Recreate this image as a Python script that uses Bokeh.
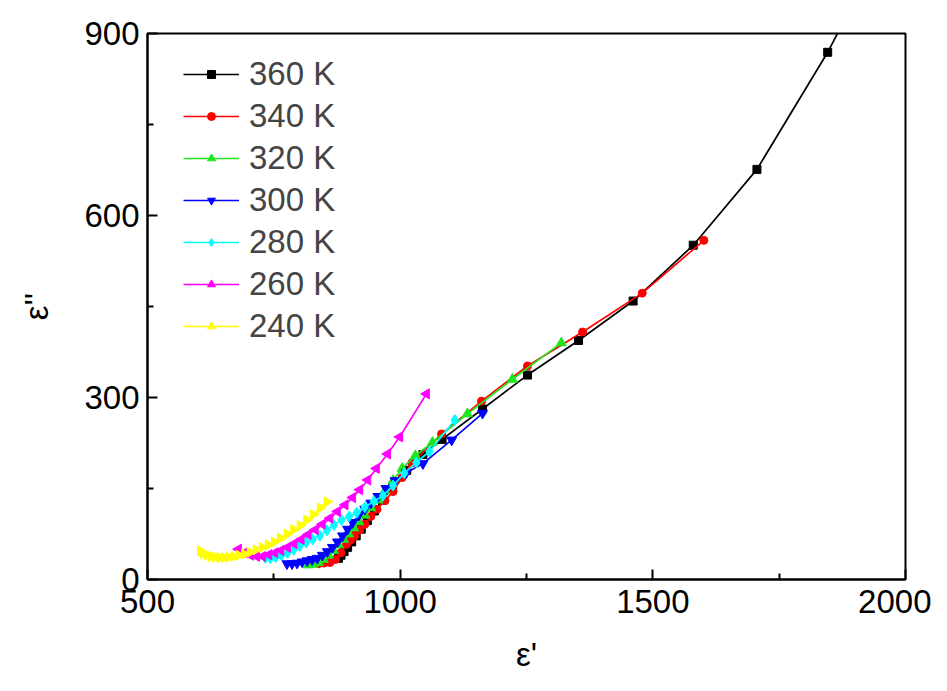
import math
from bokeh.plotting import figure
from bokeh.models import Range1d, FixedTicker, Legend, LegendItem
from bokeh.embed import file_html
from bokeh.resources import INLINE

# ---- data ----
x_360 = [878, 883, 889, 896, 904, 913, 923, 935, 949, 965, 985, 1013, 1045, 1083, 1163, 1252, 1353, 1461, 1580, 1706, 1846, 2000]
y_360 = [35, 40, 46, 53, 62, 72, 83, 97, 113, 131, 152, 180, 206, 231, 281, 337, 394, 459, 551, 676, 869, 1115]

x_340 = [838, 849, 861, 872, 883, 894, 902, 910, 920, 930, 942, 954, 970, 986, 1004, 1023, 1082, 1161, 1252, 1361, 1479, 1601]
y_340 = [26, 27, 28, 33, 44, 58, 65, 72, 82, 91, 104, 116, 130, 145, 168, 192, 240, 294, 352, 408, 472, 559]

x_320 = [818, 828, 838, 848, 858, 868, 878, 888, 898, 908, 918, 930, 942, 956, 970, 986, 1004, 1030, 1064, 1133, 1222, 1319]
y_320 = [24, 25, 28, 33, 40, 48, 57, 66, 75, 85, 95, 106, 118, 131, 146, 163, 183, 204, 226, 273, 330, 390]

x_300 = [776, 786, 796, 806, 816, 826, 836, 846, 856, 866, 876, 886, 896, 906, 918, 930, 942, 956, 972, 990, 1012, 1045, 1102, 1163]
y_300 = [26, 26, 27, 29, 31, 33, 35, 40, 46, 53, 62, 72, 83, 94, 106, 116, 126, 137, 150, 163, 176, 191, 230, 274]

x_280 = [733, 743, 754, 765, 777, 789, 801, 814, 827, 841, 855, 869, 884, 899, 914, 930, 948, 966, 986, 1008, 1032, 1058, 1108]
y_280 = [36, 35, 37, 40, 44, 49, 55, 61, 66, 72, 81, 90, 98, 104, 110, 119, 129, 138, 155, 175, 193, 211, 263]

x_260 = [680, 692, 704, 716, 728, 740, 752, 764, 777, 790, 804, 818, 832, 846, 861, 876, 891, 906, 920, 936, 953, 975, 999, 1052]
y_260 = [50, 44, 40, 38, 38, 41, 44, 48, 53, 59, 66, 74, 82, 91, 101, 112, 123, 135, 148, 164, 183, 207, 235, 306]

x_240 = [605, 611, 618, 626, 634, 643, 652, 661, 671, 681, 692, 703, 715, 727, 739, 751, 763, 776, 789, 802, 815, 828, 842, 855]
y_240 = [47, 43, 40, 38, 37, 36, 36, 37, 38, 40, 42, 45, 49, 53, 57, 62, 68, 75, 82, 89, 98, 107, 118, 128]

labels = ["360 K", "340 K", "320 K", "300 K", "280 K", "260 K", "240 K"]
x_ticks = [500, 1000, 1500, 2000]
x_minor = [750, 1250, 1750]
y_ticks = [0, 300, 600, 900]
y_minor = [150, 450, 750]

series = [
    (x_360, y_360, "#000000", "square", 0.0, 8),
    (x_340, y_340, "#ff0000", "circle", 0.0, 8),
    (x_320, y_320, "#1ee61e", "triangle", 0.0, 10),
    (x_300, y_300, "#0000ff", "inverted_triangle", 0.0, 10),
    (x_280, y_280, "#00ffff", "diamond", 0.0, 11),
    (x_260, y_260, "#ff00ff", "triangle", math.pi / 2, 10),
    (x_240, y_240, "#ffff00", "triangle", -math.pi / 2, 10),
]

FONT = "Liberation Sans"
FS = "33px"

p = figure(width=931, height=675, output_backend="svg", toolbar_location=None,
           x_range=Range1d(500, 2000), y_range=Range1d(0, 900),
           min_border_left=147, min_border_right=26, min_border_top=33, min_border_bottom=91)

p.grid.visible = False
p.outline_line_color = "black"
p.outline_line_width = 2
p.background_fill_color = "white"

items = []
for (xs, ys, col, mk, ang, sz), lab in zip(series, labels):
    lr = p.line(xs, ys, line_color=col, line_width=1.7)
    sr = p.scatter(xs, ys, marker=mk, angle=ang, size=sz, fill_color=col, line_color=col)
    items.append(LegendItem(label=lab, renderers=[lr, sr]))

legend = Legend(items=items, location=(36, 232), margin=0, padding=10,
                glyph_width=56, glyph_height=20, label_height=42, spacing=0,
                label_standoff=10, label_text_font=FONT, label_text_font_size=FS,
                border_line_color=None, background_fill_alpha=0)
p.add_layout(legend)

for ax in (p.xaxis[0], p.yaxis[0]):
    ax.axis_line_width = 2
    ax.major_tick_line_width = 2
    ax.minor_tick_line_width = 2
    ax.major_tick_in = 10
    ax.major_tick_out = 0
    ax.minor_tick_in = 6
    ax.minor_tick_out = 0
    ax.major_label_text_font = FONT
    ax.major_label_text_font_size = FS
    ax.major_label_text_color = "black"
    ax.axis_label_text_font = FONT
    ax.axis_label_text_font_size = FS
    ax.axis_label_text_font_style = "normal"
    ax.axis_label_text_color = "black"

p.xaxis.ticker = FixedTicker(ticks=x_ticks, minor_ticks=x_minor)
p.yaxis.ticker = FixedTicker(ticks=y_ticks, minor_ticks=y_minor)
p.xaxis.axis_label = "ε'"
p.yaxis.axis_label = "ε''"
p.xaxis.major_label_standoff = 10
p.yaxis.major_label_standoff = 8
p.xaxis.axis_label_standoff = 20
p.yaxis.axis_label_standoff = 26

open("out.html", "w").write(file_html(p, INLINE))
